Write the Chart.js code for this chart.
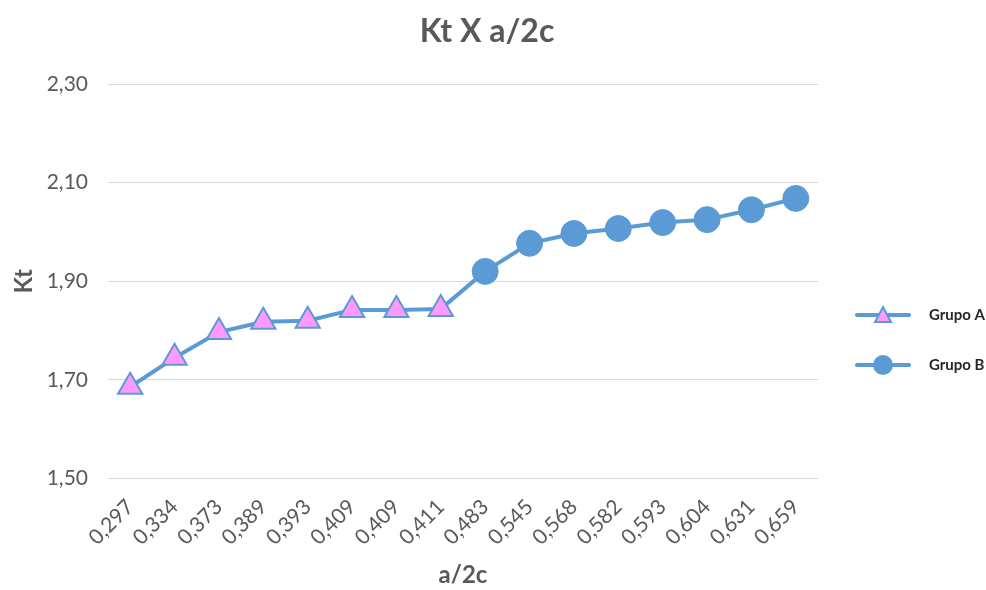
<!DOCTYPE html>
<html>
<head>
<meta charset="utf-8">
<script src="https://cdn.jsdelivr.net/npm/chart.js@4.4.0/dist/chart.umd.min.js"></script>
<style>
  html, body { margin: 0; padding: 0; background: #fff; }
  #wrap { width: 986px; height: 590px; }
</style>
</head>
<body>
<div id="wrap"><canvas id="ktChart" width="986" height="590"></canvas></div>
<script>
// ── data ─────────────────────────────────────────
const categories = ['0,297', '0,334', '0,373', '0,389', '0,393', '0,409', '0,409', '0,411',
                    '0,483', '0,545', '0,568', '0,582', '0,593', '0,604', '0,631', '0,659'];
const grupoA = [1.686, 1.745, 1.797, 1.818, 1.820, 1.842, 1.842, 1.844,
                null, null, null, null, null, null, null, null];
const grupoB = [null, null, null, null, null, null, null, 1.844,
                1.920, 1.977, 1.997, 2.007, 2.019, 2.025, 2.045, 2.068];
const yTicks = [1.5, 1.7, 1.9, 2.1, 2.3];

const BLUE = '#5B9BD5';
const PINK = '#FF99FF';
const GREY = '#595959';
const FONT = "Lato, 'Open Sans', sans-serif";

// title centred on the whole canvas (Excel style), not on the plot box
const pageTitle = {
  id: 'pageTitle',
  afterDraw(chart) {
    const c = chart.ctx;
    c.save();
    c.fillStyle = GREY;
    c.font = 'bold 32px ' + FONT;
    c.textAlign = 'center';
    c.textBaseline = 'middle';
    c.fillText('Kt X a/2c', 487, 32);
    c.restore();
  }
};

// legend drawn as line + marker
const sideLegend = {
  id: 'sideLegend',
  afterDraw(chart) {
    const c = chart.ctx;
    chart.data.datasets.forEach((ds, i) => {
      const y = 315 + i * 50;
      const x0 = 857, x1 = 909, xm = 883;
      c.save();
      c.strokeStyle = BLUE;
      c.lineWidth = 4;
      c.lineCap = 'round';
      c.beginPath();
      c.moveTo(x0, y);
      c.lineTo(x1, y);
      c.stroke();
      c.fillStyle = ds.pointBackgroundColor;
      c.lineWidth = 2;
      c.beginPath();
      if (ds.pointStyle === 'triangle') {
        c.moveTo(xm, y - 8);
        c.lineTo(xm + 8, y + 7);
        c.lineTo(xm - 8, y + 7);
        c.closePath();
      } else {
        c.arc(xm, y, 9, 0, Math.PI * 2);
      }
      c.fill();
      c.stroke();
      c.fillStyle = '#262626';
      c.font = 'bold 15px ' + FONT;
      c.textBaseline = 'middle';
      c.fillText(ds.label, 929, y);
      c.restore();
    });
  }
};

new Chart(document.getElementById('ktChart'), {
  type: 'line',
  data: {
    labels: categories,
    datasets: [
      {
        label: 'Grupo A',
        data: grupoA,
        borderColor: BLUE,
        borderWidth: 4,
        pointStyle: 'triangle',
        pointRadius: 14,
        pointBackgroundColor: PINK,
        pointBorderColor: BLUE,
        pointBorderWidth: 2,
        tension: 0,
      },
      {
        label: 'Grupo B',
        data: grupoB,
        borderColor: BLUE,
        borderWidth: 4,
        pointStyle: 'circle',
        pointRadius: ctx => (ctx.dataIndex === 7 ? 0 : 13),
        pointBackgroundColor: BLUE,
        pointBorderColor: BLUE,
        pointBorderWidth: 1,
        tension: 0,
      }
    ]
  },
  options: {
    responsive: false,
    animation: false,
    layout: { padding: { top: 84, right: 168, left: 8, bottom: 0 } },
    plugins: {
      legend: { display: false },
      tooltip: { enabled: false },
      title: { display: false }
    },
    scales: {
      x: {
        offset: true,
        grid: { display: false },
        border: { display: false },
        afterFit: s => { s.paddingLeft = 0; s.paddingRight = 0; },
        ticks: {
          color: GREY,
          font: { family: FONT, size: 21 },
          minRotation: 45,
          maxRotation: 45,
          autoSkip: false,
          padding: 8
        },
        title: {
          display: true,
          text: 'a/2c',
          color: GREY,
          font: { family: FONT, size: 24, weight: 'bold' },
          padding: { top: 3, bottom: 0 }
        }
      },
      y: {
        min: yTicks[0],
        max: yTicks[yTicks.length - 1],
        afterBuildTicks: axis => { axis.ticks = yTicks.map(v => ({ value: v })); },
        // fixed gutter so the plot starts where the original does
        afterFit: s => { s.width = 100; },
        grid: { color: '#D9D9D9', lineWidth: 1, drawTicks: false },
        border: { display: false },
        ticks: {
          color: GREY,
          font: { family: FONT, size: 21 },
          padding: 20,
          callback: v => v.toFixed(2).replace('.', ',')
        },
        title: {
          display: true,
          text: 'Kt',
          color: GREY,
          font: { family: FONT, size: 24, weight: 'bold' },
          padding: { top: 2, bottom: 8 }
        }
      }
    }
  },
  plugins: [pageTitle, sideLegend]
});
</script>
</body>
</html>
